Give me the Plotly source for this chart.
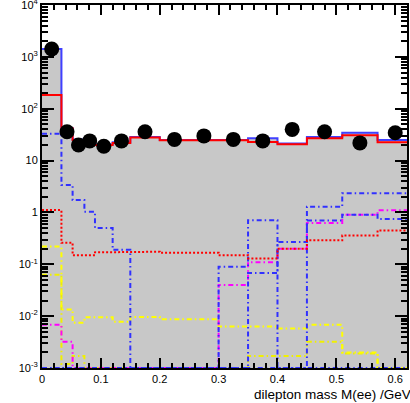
import plotly.graph_objects as go

# ---- data ----
bin_edges = [0, 0.033, 0.052, 0.072, 0.09, 0.12, 0.15, 0.20, 0.25, 0.30,
             0.35, 0.40, 0.45, 0.51, 0.57, 0.63]

data_counts = [1420, 36, 20, 24, 19, 24, 36, 25.7, 30, 25.7, 24, 40, 36, 22, 34.5]

total_blue = [1420, 42, 25.5, 20.5, 20.5, 22.5, 28.5, 25, 24.5, 25, 27, 21.5, 28.5, 34.5, 25]
total_red = [184, 42, 25, 20, 20, 22, 28, 24.6, 24, 24.6, 23, 20.6, 27, 31, 22.5]

comp_blue_a = [33, 3.4, 1.74, 1.03, 0.5, 0.19, 0, 0, 0, 0, 0, 0, 0, 0, 0]
comp_blue_b = [0, 0, 0, 0, 0, 0, 0, 0, 0, 0.09, 0.71, 0, 1.29, 2.34, 2.34]
comp_blue_c = [0, 0, 0, 0, 0, 0, 0, 0, 0, 0, 0.068, 0.27, 0.7, 0.9, 0.75]
comp_magenta = [0.0068, 0.0032, 0, 0, 0, 0, 0, 0, 0, 0.04, 0.11, 0.2, 0.63, 0.9, 1.1]
comp_red_dot = [1.11, 0.26, 0.15, 0.15, 0.17, 0.17, 0.175, 0.167, 0.167, 0.15,
                0.13, 0.2, 0.29, 0.36, 0.45]
comp_yellow_1 = [0.22, 0.0135, 0.0075, 0.0095, 0.0095, 0.0078, 0.0096, 0.0087,
                 0.0087, 0.0063, 0.0063, 0.0058, 0.0068, 0.002, 0]
comp_yellow_2 = [0.063, 0.0012, 0.0017, 0, 0, 0, 0, 0, 0, 0, 0.0017, 0.0017,
                 0.0032, 0.0019, 0]

y_tick_vals = [1e-3, 1e-2, 1e-1, 1, 10, 100, 1000, 10000]
y_tick_text = ["10<sup>-3</sup>", "10<sup>-2</sup>", "10<sup>-1</sup>", "1", "10",
               "10<sup>2</sup>", "10<sup>3</sup>", "10<sup>4</sup>"]
x_tick_vals = [0, 0.1, 0.2, 0.3, 0.4, 0.5, 0.6]
x_tick_text = ["0", "0.1", "0.2", "0.3", "0.4", "0.5", "0.6"]

FLOOR = 1e-3


def step_xy(edges, vals):
    xs, ys = [], []
    for i, v in enumerate(vals):
        v = v if v > FLOOR else FLOOR
        xs += [edges[i], edges[i + 1]]
        ys += [v, v]
    return xs, ys


fig = go.Figure()

# gray filled total
sx, sy = step_xy(bin_edges, total_blue)
fig.add_trace(go.Scatter(x=[bin_edges[0]] + sx + [bin_edges[-1]],
                         y=[FLOOR] + sy + [FLOOR],
                         fill="toself", fillcolor="#c8c8c8", mode="lines",
                         line=dict(width=0), hoverinfo="skip", showlegend=False))

DASHDOT = "5px,3px,1.5px,3px"


def add_step(vals, color, dash, width=2):
    x, y = step_xy(bin_edges, vals)
    fig.add_trace(go.Scatter(x=x, y=y, mode="lines",
                             line=dict(color=color, width=width, dash=dash),
                             showlegend=False))


add_step(comp_yellow_2, "#f0f000", DASHDOT)
add_step(comp_yellow_1, "#ffff00", DASHDOT)
add_step(comp_magenta, "#ff00ff", DASHDOT)
add_step(comp_blue_c, "#3030ff", DASHDOT)
add_step(comp_blue_b, "#3030ff", DASHDOT)
add_step(comp_blue_a, "#3030ff", DASHDOT)
add_step(comp_red_dot, "#ff0000", "2px,2px")
add_step(total_blue, "#4040ff", "solid", 2)
add_step(total_red, "#ff0000", "solid", 2)

centers = [(bin_edges[i] + bin_edges[i + 1]) / 2 for i in range(len(data_counts))]
fig.add_trace(go.Scatter(x=centers, y=data_counts, mode="markers",
                         marker=dict(color="black", size=15), showlegend=False))

fig.update_layout(
    width=410, height=403,
    margin=dict(l=42, r=3, t=5, b=35, autoexpand=False),
    paper_bgcolor="white", plot_bgcolor="white",
    font=dict(family="Liberation Sans, Arial, sans-serif", size=11, color="black"),
    showlegend=False,
)
fig.update_xaxes(range=[0, 0.62], showgrid=False, zeroline=False, automargin=False,
                 showline=True, linecolor="black", linewidth=2, mirror="allticks",
                 ticks="inside", ticklen=10, tickwidth=1.5, tickcolor="black",
                 tickvals=x_tick_vals, ticktext=x_tick_text,
                 tickfont=dict(size=11, color="black"), ticklabeloverflow="allow",
                 minor=dict(ticks="inside", ticklen=5, dtick=0.02, tick0=0,
                            tickcolor="black", tickwidth=1.5))
minor_y = [m * 10 ** e for e in range(-3, 4) for m in range(2, 10)]
fig.update_yaxes(type="log", range=[-3, 4.002], showgrid=False, zeroline=False,
                 automargin=False,
                 showline=True, linecolor="black", linewidth=2, mirror="allticks",
                 ticks="inside", ticklen=12, tickwidth=1.5, tickcolor="black",
                 tickvals=y_tick_vals, ticktext=y_tick_text,
                 tickfont=dict(size=11, color="black"), ticklabeloverflow="allow",
                 minor=dict(ticks="inside", ticklen=6, tickvals=minor_y,
                            tickcolor="black", tickwidth=1.5))

fig.add_annotation(text="dilepton mass M(ee) /GeV", xref="paper", yref="paper",
                   x=(252 - 42) / 365, y=-26 / 363, xanchor="left", yanchor="middle",
                   showarrow=False, font=dict(size=13.5, color="black"))

fig.write_html("out.html", config={"displayModeBar": False},
               post_script="document.body.style.margin='0px';document.body.style.overflow='hidden';")
